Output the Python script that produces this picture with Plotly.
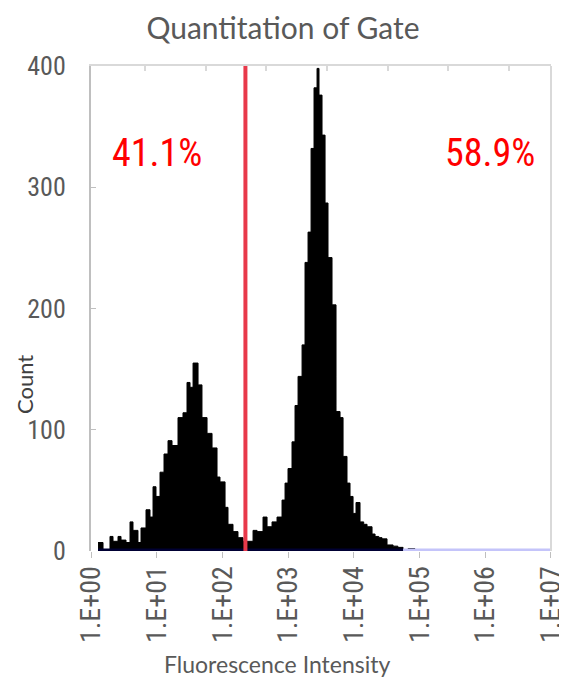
import plotly.graph_objects as go

# ---- data ----
# histogram bin left edges in log10(intensity) (last value = right edge of last bin)
bin_edges_log = [0.107, 0.183, 0.289, 0.335, 0.411, 0.457, 0.533, 0.594, 0.639, 0.715,
                 0.761, 0.837, 0.898, 0.944, 0.989, 1.050, 1.111, 1.172, 1.233, 1.324,
                 1.400, 1.461, 1.507, 1.553, 1.629, 1.689, 1.766, 1.842, 1.918, 1.963,
                 2.040, 2.085, 2.161, 2.237, 2.314, 2.390, 2.466, 2.527, 2.618, 2.679,
                 2.755, 2.831, 2.907, 2.953, 2.998, 3.059, 3.105, 3.151, 3.212, 3.257,
                 3.303, 3.349, 3.394, 3.440, 3.470, 3.516, 3.562, 3.607, 3.668, 3.729,
                 3.790, 3.836, 3.896, 3.942, 3.988, 4.033, 4.094, 4.150, 4.201, 4.277,
                 4.323, 4.380, 4.429, 4.505, 4.597, 4.670, 4.749, 4.825, 4.932]
bin_counts = [7, 1, 12, 8, 12, 9, 7, 24, 17, 7,
              19, 34, 28, 53, 45, 65, 80, 91, 87, 110,
              114, 139, 135, 155, 137, 110, 97, 85, 61, 57,
              36, 22, 16, 11, 8, 8, 17, 16, 28, 20,
              24, 28, 42, 56, 68, 90, 120, 144, 170, 238,
              263, 332, 382, 398, 376, 343, 287, 242, 203, 115,
              110, 78, 56, 45, 31, 40, 24, 22, 20, 14,
              12, 11, 10, 5, 4, 3, 0.5, 2]

gate_log = 2.35
left_pct = "41.1%"
right_pct = "58.9%"

x_tick_exponents = [0, 1, 2, 3, 4, 5, 6, 7]
x_tick_labels = ["1.E+00", "1.E+01", "1.E+02", "1.E+03", "1.E+04", "1.E+05", "1.E+06", "1.E+07"]
y_ticks = [0, 100, 200, 300, 400]

title_text = "Quantitation of Gate"
x_title = "Fluorescence Intensity"
y_title = "Count"

# ---- build figure ----
xs = [10 ** e for e in bin_edges_log]
ys = bin_counts + [bin_counts[-1]]

narrow = "Liberation Sans Narrow, Arial Narrow, Roboto Condensed, sans-serif"
humanist = "Lato, Open Sans, sans-serif"
grey = "#595959"

# page body has an 8px margin: figure placed at (8, 8)
OFF = 8
W, H = 567 - OFF, 679 - OFF
L, R, T, B = 91 - OFF, 16, 66 - OFF, 128
PW, PH = 460, 485


def px(xp):
    return (xp - 91) / PW


def py(yp):
    return (551 - yp) / PH


fig = go.Figure()

fig.add_trace(go.Scatter(x=xs, y=ys, mode="lines", line=dict(shape="hv", color="black", width=1),
                         fill="tozeroy", fillcolor="black", hoverinfo="skip", showlegend=False))
fig.add_trace(go.Scatter(x=[xs[0], xs[-3]], y=[0, 0], mode="lines",
                         line=dict(color="#000033", width=5), showlegend=False, hoverinfo="skip"))
fig.add_trace(go.Scatter(x=[xs[-3], 10 ** x_tick_exponents[-1]], y=[0, 0], mode="lines",
                         line=dict(color="#c4c4fa", width=5), showlegend=False, hoverinfo="skip"))
fig.add_trace(go.Scatter(x=[10 ** gate_log, 10 ** gate_log], y=[y_ticks[0], y_ticks[-1]], mode="lines",
                         line=dict(color="#e8394a", width=4), showlegend=False, hoverinfo="skip"))
# empty trace so the top (secondary) axis is drawn with its ticks
fig.add_trace(go.Scatter(x=[], y=[], xaxis="x2", showlegend=False, hoverinfo="skip"))

fig.update_layout(
    width=W, height=H,
    margin=dict(l=L, r=R, t=T, b=B, autoexpand=False),
    paper_bgcolor="white", plot_bgcolor="white",
    title=dict(text=title_text, x=(283 - OFF) / W, xanchor="center", y=1 - (28 - OFF) / H, yanchor="middle",
               font=dict(family=humanist, size=30, color=grey)),
    xaxis=dict(type="log", range=[x_tick_exponents[0], x_tick_exponents[-1] + 0.0005],
               tickvals=[10 ** e for e in x_tick_exponents], ticktext=x_tick_labels,
               tickangle=-90, ticks="outside", ticklen=6, tickcolor="#bfbfbf",
               showgrid=False, zeroline=False, showline=False, ticklabelstandoff=-3,
               ticklabeloverflow="allow", automargin=False,
               tickfont=dict(family=narrow, size=28, color=grey)),
    xaxis2=dict(overlaying="x", side="top", anchor="y", range=[0.11, 7.69],
                tickvals=[1, 2, 3, 4, 5, 6, 7], ticks="inside", ticklen=5, tickcolor="#d9d9d9",
                tickwidth=2, showticklabels=False, showgrid=False, zeroline=False,
                showline=True, linecolor="#d9d9d9", linewidth=2, automargin=False),
    yaxis=dict(range=[y_ticks[0], y_ticks[-1]], tickvals=y_ticks, ticks="inside", ticklen=5,
               tickcolor="#bfbfbf", showgrid=False, zeroline=False,
               showline=True, linecolor="#bfbfbf", linewidth=2,
               ticklabelstandoff=18, automargin=False,
               tickfont=dict(family=narrow, size=26, color=grey)),
    shapes=[dict(type="line", xref="paper", yref="paper", x0=1, x1=1, y0=0, y1=1,
                 line=dict(color="#d9d9d9", width=2))],
    annotations=[
        dict(text=left_pct, xref="paper", yref="paper", x=px(157), y=py(153),
             xanchor="center", yanchor="middle",
             showarrow=False, font=dict(family=narrow, size=38, color="#ff0000")),
        dict(text=right_pct, xref="paper", yref="paper", x=px(490), y=py(153),
             xanchor="center", yanchor="middle",
             showarrow=False, font=dict(family=narrow, size=38, color="#ff0000")),
        dict(text=x_title, xref="paper", yref="paper", x=px(277), y=py(664),
             xanchor="center", yanchor="middle",
             showarrow=False, font=dict(family=humanist, size=23, color=grey)),
        dict(text=y_title, xref="paper", yref="paper", x=px(24), y=py(385),
             xanchor="center", yanchor="middle", textangle=-90, showarrow=False,
             font=dict(family=humanist, size=22, color="#404040")),
    ],
)

fig.write_html("out.html")
